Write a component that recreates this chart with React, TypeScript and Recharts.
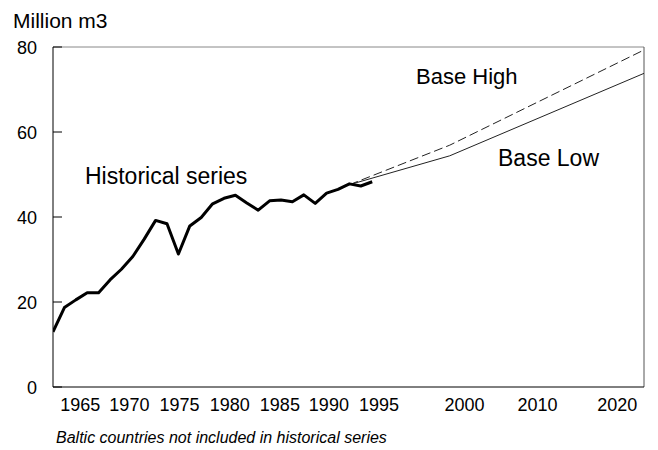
import { LineChart, Line, XAxis, YAxis, ReferenceLine } from 'recharts';

const W = 658;
const H = 450;
const FONT = '"Liberation Sans", Arial, Helvetica, sans-serif';

// yearly historical series (thick line)
const histValues = [
  13.0, 18.7, 20.5, 22.2, 22.2, 25.2, 27.7, 30.7, 34.8, 39.2, 38.4, 31.3, 37.9, 39.9, 43.1,
  44.4, 45.1, 43.3, 41.6, 43.8, 44.0, 43.6, 45.2, 43.2, 45.6, 46.5, 47.8, 47.3, 48.3,
];

// projections: slot on the x axis (1 slot = 1 historical year, later years squeezed)
const projSlots = [26, 34.8, 51.84];
const baseLow = [47.6, 54.4, 73.8];
const baseHigh = [47.6, 56.9, 79.3];

// axis labels and the slot each one sits under
const tickLabels = ['1965', '1970', '1975', '1980', '1985', '1990', '1995', '2000', '2010', '2020'];
const tickSlots = [2.4, 6.7, 11.1, 15.5, 19.9, 24.2, 28.6, 36.1, 42.5, 49.5];
const yTicks = [0, 20, 40, 60, 80];
const xMax = 51.84;

const histData = histValues.map((v, i) => ({ t: i, v }));
const lowData = projSlots.map((t, i) => ({ t, v: baseLow[i] }));
const highData = projSlots.map((t, i) => ({ t, v: baseHigh[i] }));

const YTick = ({ x, y, payload }: any) => (
  <g>
    <line x1={x + 16} x2={x + 25} y1={y} y2={y} stroke="#000" strokeWidth={1} />
    <text x={x} y={y} dy={7} textAnchor="end" fontSize={18} fontFamily={FONT} fill="#000">
      {payload.value}
    </text>
  </g>
);

const XTick = ({ x, y, payload }: any) => (
  <text x={x} y={y + 13} textAnchor="middle" fontSize={18} fontFamily={FONT} fill="#000">
    {tickLabels[tickSlots.indexOf(payload.value)]}
  </text>
);

export default function App() {
  return (
    <div style={{ position: 'absolute', left: 0, top: 0, width: W, height: H, background: '#fff' }}>
      <LineChart width={W} height={H} margin={{ top: 47, right: 14, bottom: 33, left: 0 }}>
        <XAxis
          type="number"
          dataKey="t"
          domain={[0, xMax]}
          allowDataOverflow
          ticks={tickSlots}
          interval={0}
          tickLine={false}
          tickSize={0}
          tickMargin={11}
          height={30}
          axisLine={{ stroke: '#000' }}
          tick={<XTick />}
        />
        <YAxis
          type="number"
          domain={[0, 80]}
          ticks={yTicks}
          width={53}
          tickLine={false}
          tickSize={0}
          tickMargin={16}
          axisLine={{ stroke: '#000' }}
          tick={<YTick />}
        />
        <ReferenceLine y={80} stroke="#888" strokeWidth={1} />
        <ReferenceLine x={xMax} stroke="#555" strokeWidth={1} />
        <Line
          data={highData}
          dataKey="v"
          type="linear"
          stroke="#222"
          strokeWidth={1}
          strokeDasharray="9 4"
          dot={false}
          isAnimationActive={false}
        />
        <Line
          data={lowData}
          dataKey="v"
          type="linear"
          stroke="#222"
          strokeWidth={1}
          dot={false}
          isAnimationActive={false}
        />
        <Line
          data={histData}
          dataKey="v"
          type="linear"
          stroke="#000"
          strokeWidth={3}
          strokeLinejoin="round"
          dot={false}
          isAnimationActive={false}
        />
      </LineChart>
      <svg
        width={W}
        height={H}
        style={{ position: 'absolute', left: 0, top: 0, pointerEvents: 'none' }}
        fontFamily={FONT}
        fill="#000"
      >
        <text x={13} y={28} fontSize={21}>Million m3</text>
        <text x={85} y={184} fontSize={23}>Historical series</text>
        <text x={416} y={84} fontSize={22}>Base High</text>
        <text x={498} y={166} fontSize={23}>Base Low</text>
        <text x={56} y={443} fontSize={16} fontStyle="italic">
          Baltic countries not included in historical series
        </text>
      </svg>
    </div>
  );
}
